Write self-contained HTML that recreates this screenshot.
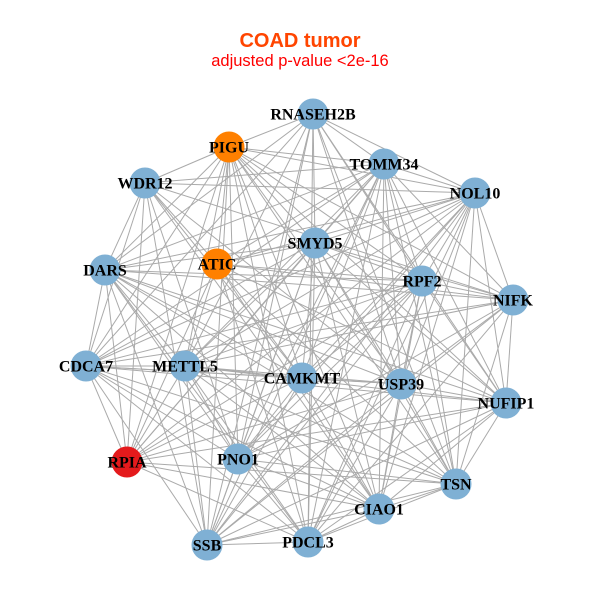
<!DOCTYPE html>
<html><head><meta charset="utf-8"><style>
html,body{margin:0;padding:0;background:#fff;}
svg{display:block;}
.l{font-family:"Liberation Serif",serif;font-weight:bold;font-size:16px;fill:#000;text-anchor:middle;}
</style></head><body>
<svg id="s" width="600" height="600" viewBox="0 0 600 600">
<rect width="600" height="600" fill="#fff"/>
<text x="300" y="47" text-anchor="middle" font-family="Liberation Sans,sans-serif" font-weight="bold" font-size="20" fill="#ff4500">COAD tumor</text>
<text x="300" y="66" text-anchor="middle" font-family="Liberation Sans,sans-serif" font-size="16.5" fill="#ff0000">adjusted p-value &lt;2e-16</text>
<g id="e" stroke="#aaaaaa" stroke-width="1"></g>
<g id="n"></g>
</svg>
<script>
var N=[["RNASEH2B",313,114,"#7fb0d4"],["PIGU",229,147,"#ff8000"],["TOMM34",384,164,"#7fb0d4"],["WDR12",145,183,"#7fb0d4"],["NOL10",475,193,"#7fb0d4"],["SMYD5",315,243,"#7fb0d4"],["ATIC",217,264,"#ff8000"],["DARS",105,270,"#7fb0d4"],["RPF2",422,281,"#7fb0d4"],["NIFK",513,300,"#7fb0d4"],["CDCA7",86,366,"#7fb0d4"],["METTL5",185,366,"#7fb0d4"],["CAMKMT",302,378,"#7fb0d4"],["USP39",401,384,"#7fb0d4"],["NUFIP1",506,403,"#7fb0d4"],["RPIA",127,462,"#e41a1c"],["PNO1",238,459,"#7fb0d4"],["TSN",456,484,"#7fb0d4"],["CIAO1",379,509,"#7fb0d4"],["SSB",207,545,"#7fb0d4"],["PDCL3",308,542,"#7fb0d4"]];
var ns="http://www.w3.org/2000/svg",e=document.getElementById("e"),g=document.getElementById("n");
for(var i=0;i<N.length;i++)for(var j=i+1;j<N.length;j++){
 if((i*7+j*3)%9==0)continue;
 var l=document.createElementNS(ns,"line");
 l.setAttribute("x1",N[i][1]);l.setAttribute("y1",N[i][2]);l.setAttribute("x2",N[j][1]);l.setAttribute("y2",N[j][2]);e.appendChild(l);}
N.forEach(function(a){var c=document.createElementNS(ns,"circle");c.setAttribute("cx",a[1]);c.setAttribute("cy",a[2]);c.setAttribute("r",15.5);c.setAttribute("fill",a[3]);g.appendChild(c);
var t=document.createElementNS(ns,"text");t.setAttribute("x",a[1]);t.setAttribute("y",a[2]+5.5);t.setAttribute("class","l");t.textContent=a[0];g.appendChild(t);});
</script>
</body></html>
